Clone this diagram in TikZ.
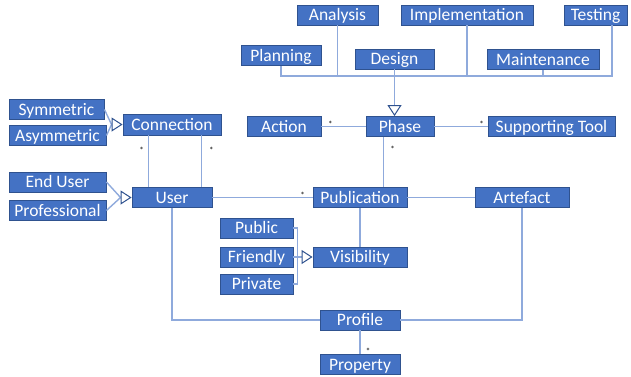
\documentclass[tikz,border=0pt]{standalone}
\usepackage{fontspec}
\setmainfont{Carlito}
\usetikzlibrary{arrows.meta, calc}

\definecolor{boxblue}{HTML}{4472C4}
\definecolor{boxedge}{HTML}{2F528F}
\definecolor{wire}{HTML}{8FAADC}

\begin{document}
\begin{tikzpicture}[x=1pt, y=-1pt,
  cls/.style={draw=boxedge, fill=boxblue, text=white, line width=0.9pt,
    inner sep=0pt, minimum height=20pt, text height=11.3pt, text depth=0pt,
    font=\fontsize{17.5}{19}\selectfont},
  link/.style={draw=wire, line width=1.4pt},
  isa/.style={link, -{Triangle[open, length=11pt, width=14pt, color=boxedge, fill=white, line width=1pt]}},
  mult/.style={inner sep=0pt, font=\fontsize{9}{9}\selectfont}]
  \useasboundingbox (0,0) rectangle (631,376);

  % phases of the process
  \node[cls, minimum width=81pt] (Analysis) at (337.5,15) {Analysis};
  \node[cls, minimum width=132pt] (Implementation) at (467,15) {Implementation};
  \node[cls, minimum width=63pt] (Testing) at (595.5,15) {Testing};
  \node[cls, minimum width=80pt] (Planning) at (281,55.5) {Planning};
  \node[cls, minimum width=79pt] (Design) at (394.5,59) {Design};
  \node[cls, minimum width=112pt] (Maintenance) at (543,59.5) {Maintenance};
  \node[cls, minimum width=74pt] (Action) at (284,126.5) {Action};
  \node[cls, minimum width=68pt] (Phase) at (400,126.5) {Phase};
  \node[cls, minimum width=127pt] (Tool) at (551.5,126.5) {Supporting Tool};

  % users and connections
  \node[cls, minimum width=95pt] (Symmetric) at (56.5,109.5) {Symmetric};
  \node[cls, minimum width=97pt] (Asymmetric) at (57.5,135.5) {Asymmetric};
  \node[cls, minimum width=98pt, minimum height=21pt] (Connection) at (172,124.5) {Connection};
  \node[cls, minimum width=97pt] (EndUser) at (57.5,182) {End User};
  \node[cls, minimum width=97pt] (Professional) at (57.5,210.5) {Professional};
  \node[cls, minimum width=80pt] (User) at (172,197.5) {User};

  % publications
  \node[cls, minimum width=94pt] (Publication) at (360,197.5) {Publication};
  \node[cls, minimum width=94pt] (Artefact) at (522,197.5) {Artefact};
  \node[cls, minimum width=73pt] (Public) at (256.5,228) {Public};
  \node[cls, minimum width=73pt] (Friendly) at (256.5,257) {Friendly};
  \node[cls, minimum width=73pt] (Private) at (256.5,284) {Private};
  \node[cls, minimum width=94pt] (Visibility) at (360,257) {Visibility};
  \node[cls, minimum width=80pt] (Profile) at (360,320) {Profile};
  \node[cls, minimum width=80pt] (Property) at (360,364.5) {Property};

  % bus joining the phase kinds
  \coordinate (busL) at (281,76);
  \coordinate (busR) at (612,76);
  \draw[link] (Planning.south) -- (busL) -- (busR) -- (busR |- Testing.south);
  \foreach \n in {Analysis, Implementation, Maintenance}
    \draw[link] (\n.south) -- (\n.south |- busL);
  \draw[isa] (Design.south) -- (Design.south |- Phase.north);

  \draw[link] (Action) -- (Phase) -- (Tool);
  \coordinate (phaseOut) at ($(Phase.south west)+(18,0)$);
  \draw[link] (phaseOut) -- (phaseOut |- Publication.north);

  % connection between users
  \coordinate (cu1) at ($(User.north west)+(17,0)$);
  \coordinate (cu2) at ($(User.north east)+(-11,0)$);
  \draw[link] (cu1) -- (cu1 |- Connection.south);
  \draw[link] (cu2) -- (cu2 |- Connection.south);

  \coordinate (connFork) at ($(Connection.west)+(-11,0)$);
  \draw[link] (Symmetric.east) -- (connFork) -- (Asymmetric.east);
  \draw[isa] (connFork) -- (Connection.west);
  \coordinate (userFork) at ($(User.west)+(-11,0)$);
  \draw[link] (EndUser.east) -- (userFork) -- (Professional.east);
  \draw[isa] (userFork) -- (User.west);

  \draw[link] (User) -- (Publication) -- (Artefact);
  \draw[link] (Publication) -- (Visibility);
  \coordinate (visFork) at ($(Visibility.west)+(-12,0)$);
  \draw[link] (Public.east) -| ($(Friendly.east)+(4,0)$) |- (Private.east);
  \draw[link] (Friendly.east) -- (visFork);
  \draw[isa] (visFork) -- (Visibility.west);

  \draw[link] (User.south) |- (Profile.west);
  \draw[link] (Artefact.south) |- (Profile.east);
  \draw[link] (Profile) -- (Property);

  % multiplicities
  \node[mult] (mAction) at ($(Action.east)+(9,-2)$) {*};
  \node[mult] (mTool) at ($(Tool.west)+(-6,-2)$) {*};
  \node[mult] (mPhase) at ($(phaseOut)+(9,12)$) {*};
  \node[mult] (mConn1) at ($(Connection.south west)+(19,15)$) {*};
  \node[mult] (mConn2) at ($(Connection.south east)+(-10,15)$) {*};
  \node[mult] (mPub) at ($(Publication.west)+(-10,-2)$) {*};
  \node[mult] (mProp) at ($(Property.north)+(8,-3)$) {*};
\end{tikzpicture}
\end{document}
